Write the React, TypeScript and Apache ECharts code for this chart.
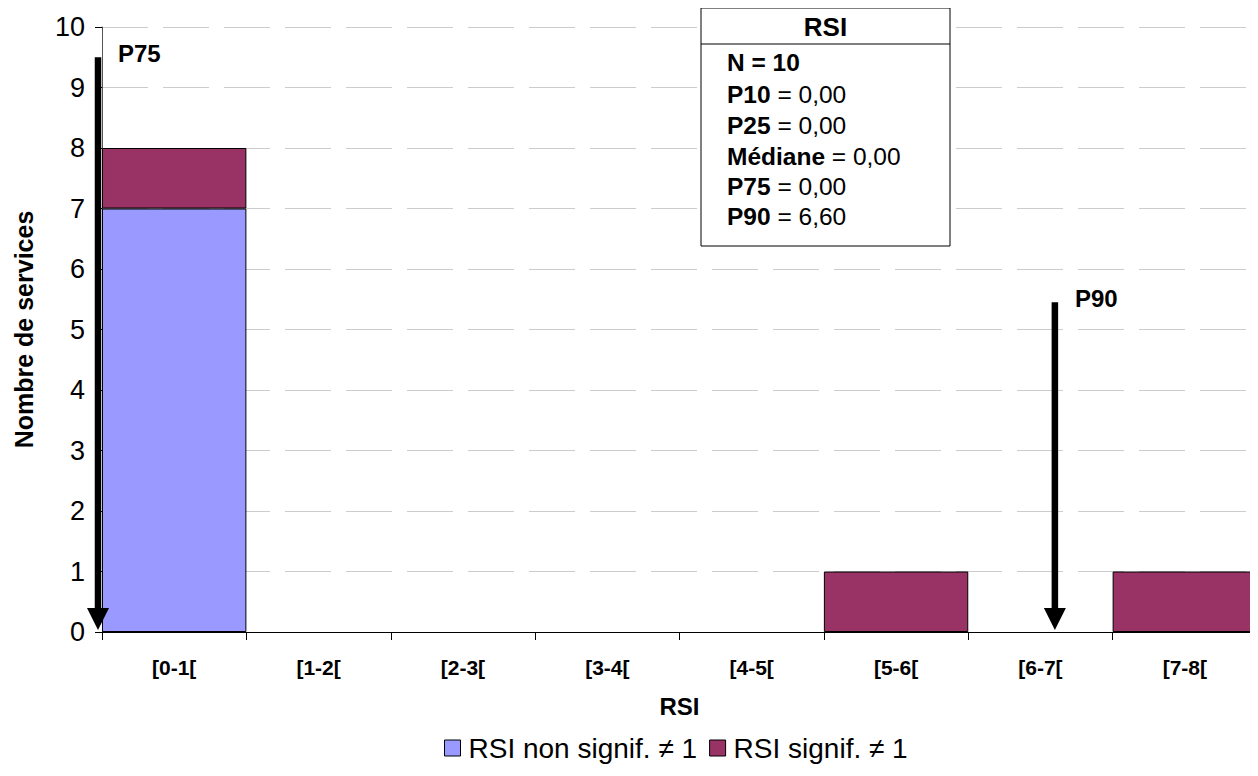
import React, { useEffect, useRef } from "react";
import * as echarts from "echarts";

const categories = ["[0-1[", "[1-2[", "[2-3[", "[3-4[", "[4-5[", "[5-6[", "[6-7[", "[7-8["];
const nonSignif = [7, 0, 0, 0, 0, 0, 0, 0];
const signif = [1, 0, 0, 0, 0, 1, 0, 1];
const yTicks = { min: 0, max: 10, interval: 1 };
// percentile arrows: [position on RSI scale, arrow top (count units), label]
const arrows: [number, number, string][] = [
  [0.0, 9.5, "P75"],
  [6.6, 5.45, "P90"],
];
const statsTitle = "RSI";
const statsLines: [string, string][] = [
  ["N = 10", ""],
  ["P10", " = 0,00"],
  ["P25", " = 0,00"],
  ["Médiane", " = 0,00"],
  ["P75", " = 0,00"],
  ["P90", " = 6,60"],
];

const FONT = "Liberation Sans, Arial, sans-serif";
const blankZero = (arr: number[]) => arr.map((v) => (v === 0 ? "-" : v));

export default function App() {
  const ref = useRef<HTMLDivElement>(null);
  useEffect(() => {
    if (!ref.current) return;
    const chart = echarts.init(ref.current, null, { renderer: "svg" });
    const boxX = 701, boxY = 8, boxW = 249, boxH = 238;
    const lineYs = [62, 94, 125, 156, 186, 216];
    chart.setOption({
      animation: false,
      textStyle: { fontFamily: FONT },
      grid: { left: 102, right: 1, top: 27, bottom: 144 },
      legend: {
        bottom: 9,
        left: 439,
        itemWidth: 16,
        itemHeight: 16,
        itemGap: 12,
        icon: "rect",
        itemStyle: { borderColor: "#000", borderWidth: 1 },
        textStyle: { fontSize: 28, color: "#000", fontFamily: FONT, padding: [0, 0, 0, 3] },
        data: ["RSI non signif. ≠ 1", "RSI signif. ≠ 1"],
      },
      xAxis: [
        {
          type: "category",
          data: categories,
          name: "RSI",
          nameLocation: "middle",
          nameGap: 62,
          nameTextStyle: { fontSize: 24, fontWeight: "bold", color: "#000", fontFamily: FONT },
          axisLine: { lineStyle: { color: "#000", width: 1 } },
          axisTick: { show: true, length: 8, lineStyle: { color: "#000" } },
          axisLabel: { fontSize: 21, fontWeight: "bold", color: "#000", margin: 25, fontFamily: FONT },
          splitLine: { show: false },
        },
        {
          type: "value",
          min: 0,
          max: 8,
          show: false,
        },
      ],
      yAxis: {
        type: "value",
        min: yTicks.min,
        max: yTicks.max,
        interval: yTicks.interval,
        name: "Nombre de services",
        nameLocation: "middle",
        nameGap: 66,
        nameTextStyle: { fontSize: 25, fontWeight: "bold", color: "#000", fontFamily: FONT },
        axisLine: { show: true, lineStyle: { color: "#555", width: 1 } },
        axisTick: { show: true, length: 7, lineStyle: { color: "#000" } },
        axisLabel: { fontSize: 27, color: "#000", margin: 17, fontFamily: FONT },
        splitLine: { show: true, lineStyle: { color: "#cccccc", type: [46, 15], width: 1 } },
      },
      series: [
        {
          name: "RSI non signif. ≠ 1",
          type: "bar",
          stack: "total",
          data: blankZero(nonSignif),
          barCategoryGap: "0%",
          itemStyle: { color: "#9999FF", borderColor: "#000", borderWidth: 1 },
        },
        {
          name: "RSI signif. ≠ 1",
          type: "bar",
          stack: "total",
          data: blankZero(signif),
          barCategoryGap: "0%",
          itemStyle: { color: "#993366", borderColor: "#000", borderWidth: 1 },
        },
        {
          type: "custom",
          xAxisIndex: 1,
          yAxisIndex: 0,
          data: arrows,
          silent: true,
          z: 10,
          renderItem: (params: any, api: any) => {
            const xv = api.value(0);
            const yv = api.value(1);
            const label = arrows[params.dataIndex][2];
            const top = api.coord([xv, yv]);
            const bot = api.coord([xv, 0]);
            const off = xv === 0 ? -4 : 0;
            const x = top[0] + off;
            const headH = 24;
            const headW = 22;
            return {
              type: "group",
              children: [
                {
                  type: "line",
                  shape: { x1: x, y1: top[1], x2: x, y2: bot[1] - headH + 2 },
                  style: { stroke: "#000", lineWidth: 6.5 },
                },
                {
                  type: "polygon",
                  shape: {
                    points: [
                      [x - headW / 2, bot[1] - headH],
                      [x + headW / 2, bot[1] - headH],
                      [x, bot[1] - 2],
                    ],
                  },
                  style: { fill: "#000" },
                },
                {
                  type: "text",
                  x: x + 20,
                  y: top[1] - 4,
                  style: {
                    text: label,
                    fill: "#000",
                    font: `bold 24px ${FONT}`,
                    verticalAlign: "middle",
                  },
                },
              ],
            };
          },
        },
      ],
      graphic: [
        {
          type: "rect",
          shape: { x: boxX, y: boxY, width: boxW, height: boxH },
          style: { fill: "#fff", stroke: "#000", lineWidth: 1 },
          z: 20,
        },
        {
          type: "line",
          shape: { x1: boxX, y1: 44, x2: boxX + boxW, y2: 44 },
          style: { stroke: "#000", lineWidth: 1 },
          z: 21,
        },
        {
          type: "text",
          x: boxX + boxW / 2,
          y: 27,
          z: 21,
          style: {
            text: statsTitle,
            fill: "#000",
            font: `bold 26px ${FONT}`,
            align: "center",
            verticalAlign: "middle",
          },
        },
        ...statsLines.map(([b, r], i) => ({
          type: "text",
          x: 727,
          y: lineYs[i],
          z: 21,
          style: {
            text: `{b|${b}}{r|${r}}`,
            verticalAlign: "middle",
            rich: {
              b: { font: `bold 24.5px ${FONT}`, fill: "#000", color: "#000" },
              r: { font: `24.5px ${FONT}`, fill: "#000", color: "#000" },
            },
          },
        })),
      ],
    });
    return () => chart.dispose();
  }, []);
  return <div ref={ref} style={{ width: 1258, height: 776, margin: -8 }} />;
}
